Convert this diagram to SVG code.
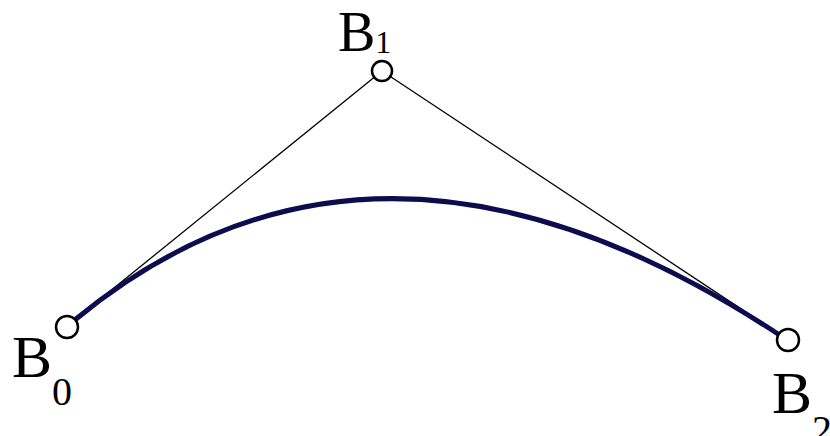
<svg xmlns="http://www.w3.org/2000/svg" width="830" height="436" viewBox="0 0 830 436">
<style>
.thin{fill:none;stroke:#000;stroke-width:1.3}
.curve{fill:none;stroke:#0c0c4e;stroke-width:5;stroke-linecap:round}
.pt{fill:#fff;stroke:#000;stroke-width:2.5}
.lbl{font-family:"Liberation Serif",serif;fill:#000}
.big{font-size:60px}
.big1{font-size:56px}
.sub{font-size:40px}
.sub1{font-size:32px}
</style>
<rect width="830" height="436" fill="#fff"/>
<g id="connectors">
<line class="thin" x1="67" y1="326" x2="382" y2="71"/>
<line class="thin" x1="382" y1="71" x2="788" y2="340"/>
<path class="curve" d="M76 319 Q378 71 778 334"/>
</g>
<g id="B0">
<circle class="pt" cx="67" cy="327" r="11"/>
<text class="lbl" x="12" y="377"><tspan class="big">B</tspan><tspan class="sub" dy="28">0</tspan></text>
</g>
<g id="B1">
<circle class="pt" cx="382" cy="71" r="10"/>
<text class="lbl" x="338" y="51"><tspan class="big1">B</tspan><tspan class="sub1" dy="2">1</tspan></text>
</g>
<g id="B2">
<circle class="pt" cx="788" cy="340" r="11"/>
<text class="lbl" x="772" y="413"><tspan class="big">B</tspan><tspan class="sub" dy="30">2</tspan></text>
</g>
</svg>
